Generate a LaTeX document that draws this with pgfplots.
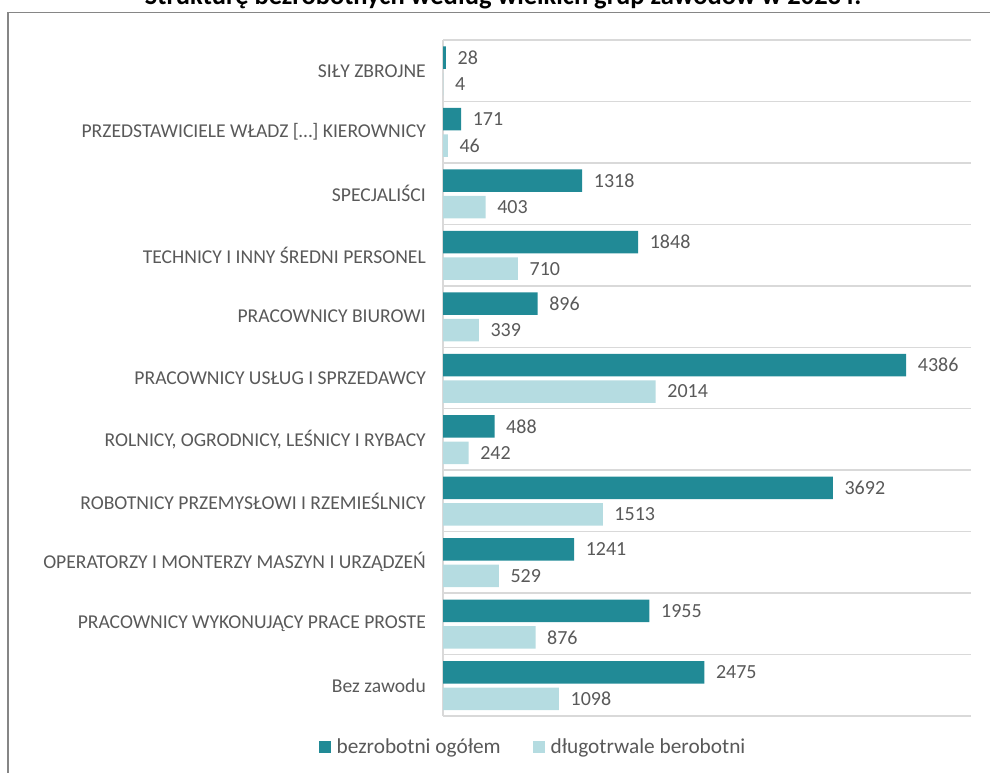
\documentclass[border=0pt]{standalone}
\usepackage{fontspec}
\setmainfont{Carlito}
\usepackage{pgfplots}
\pgfplotsset{compat=1.18}
\definecolor{ciemny}{RGB}{33,138,150}
\definecolor{jasny}{RGB}{181,220,225}
\definecolor{tekst}{RGB}{89,89,89}
\definecolor{siatka}{RGB}{217,217,217}
\definecolor{ramka}{RGB}{134,134,134}

\begin{document}
\begin{tikzpicture}[x=1pt,y=1pt]
\useasboundingbox (0pt,0pt) rectangle (990pt,772pt);
% tytul (w oryginale uciety u gory)
\node[anchor=base, font=\fontsize{26.5}{30}\selectfont\bfseries, text=black]
  at (503pt,767pt) {Strukturę bezrobotnych według wielkich grup zawodów w 2023 r.};
% ramka wykresu
\draw[ramka, line width=1.5pt] (8pt,-5pt) -- (8pt,759.5pt) -- (1000pt,759.5pt);
\begin{axis}[
    at={(443pt,56pt)}, anchor=south west,
    scale only axis, width=528pt, height=676pt,
    xbar, bar width=22.5pt,
    xmin=0, xmax=5000,
    ymin=-0.5, ymax=10.5,
    axis x line=none,
    axis y line*=left,
    y axis line style={draw=siatka, line width=1.5pt, -},
    ytick={0,1,2,3,4,5,6,7,8,9,10},
    yticklabels={Bez zawodu,
      PRACOWNICY WYKONUJĄCY PRACE PROSTE,
      OPERATORZY I MONTERZY MASZYN I URZĄDZEŃ,
      ROBOTNICY PRZEMYSŁOWI I RZEMIEŚLNICY,
      {ROLNICY, OGRODNICY, LEŚNICY I RYBACY},
      PRACOWNICY USŁUG I SPRZEDAWCY,
      PRACOWNICY BIUROWI,
      TECHNICY I INNY ŚREDNI PERSONEL,
      SPECJALIŚCI,
      {PRZEDSTAWICIELE WŁADZ […] KIEROWNICY},
      SIŁY ZBROJNE},
    minor ytick={-0.5,0.5,1.5,2.5,3.5,4.5,5.5,6.5,7.5,8.5,9.5,10.5},
    ymajorgrids=false, yminorgrids=true,
    minor grid style={draw=siatka, line width=1.5pt},
    major tick length=0pt, minor tick length=0pt,
    yticklabel style={font=\fontsize{19.6}{24}\selectfont, text=tekst,
      anchor=east, inner sep=0pt, xshift=-17pt},
    nodes near coords,
    nodes near coords style={font=\fontsize{20}{24}\selectfont, text=tekst,
      anchor=west, inner sep=0pt, xshift=11.5pt},
    /pgf/number format/.cd, fixed, precision=0, 1000 sep={}, assume math mode=true,
    /pgfplots/.cd,
    legend columns=2,
    legend style={at={(0.1705,-0.0459)}, anchor=center, draw=none,
      font=\fontsize{21.3}{25}\selectfont, text=tekst,
      /tikz/every odd column/.append style={column sep=4pt},
      /tikz/every even column/.append style={column sep=30pt}},
    legend image code/.code={\fill[#1] (0pt,-6pt) rectangle (12pt,6pt);},
]
\addplot[fill=ciemny, draw=none, bar shift=13pt] coordinates {
  (2475,0) (1955,1) (1241,2) (3692,3) (488,4) (4386,5)
  (896,6) (1848,7) (1318,8) (171,9) (28,10)
};
\addplot[fill=jasny, draw=none, bar shift=-13.5pt] coordinates {
  (1098,0) (876,1) (529,2) (1513,3) (242,4) (2014,5)
  (339,6) (710,7) (403,8) (46,9) (4,10)
};
\legend{bezrobotni ogółem, długotrwale berobotni}
\end{axis}
\end{tikzpicture}
\end{document}
